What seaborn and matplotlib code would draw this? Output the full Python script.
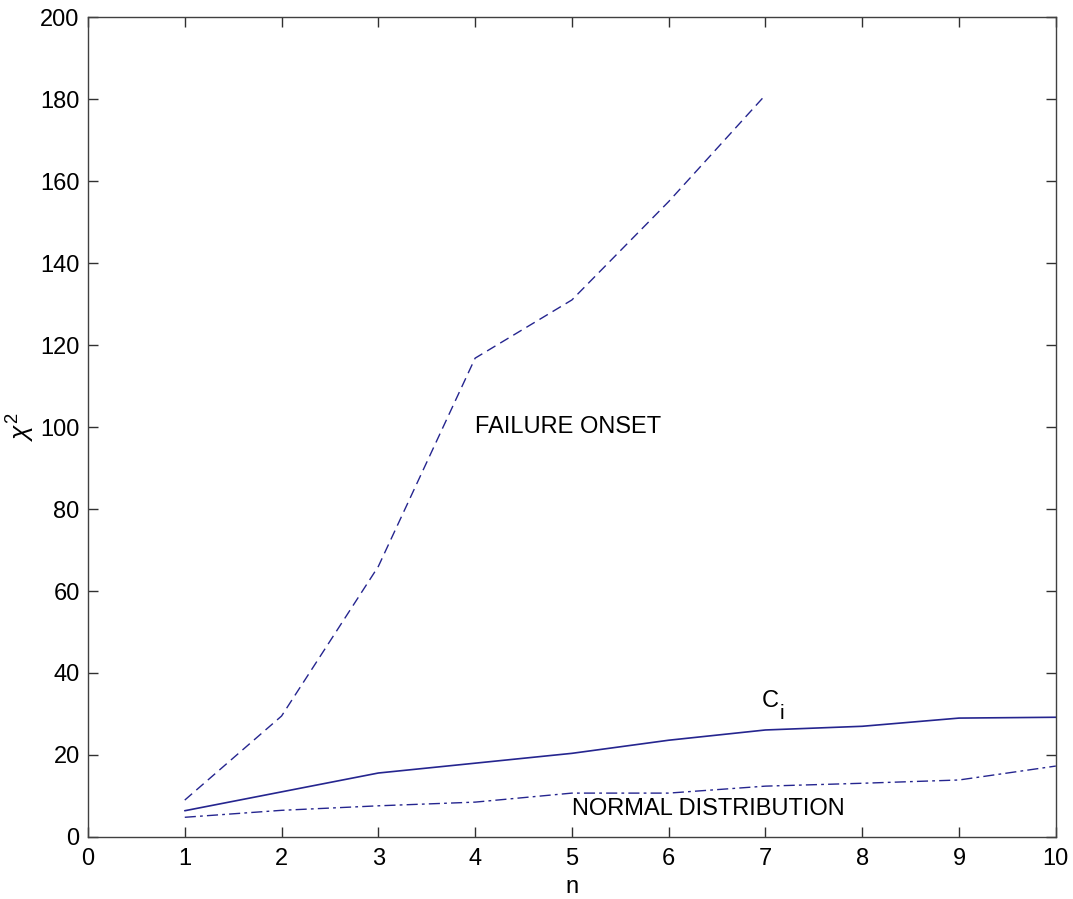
import matplotlib
matplotlib.use("Agg")
import matplotlib.pyplot as plt
import seaborn as sns
import pandas as pd

n_fail = [1, 2, 3, 4, 5, 6, 7]
failure_onset = [9.0, 29.5, 66.0, 116.8, 131.0, 155.0, 181.0]

n_all = [1, 2, 3, 4, 5, 6, 7, 8, 9, 10]
ci_values = [6.4, 11.0, 15.6, 18.0, 20.4, 23.6, 26.1, 27.0, 29.0, 29.2]
normal_dist = [4.8, 6.5, 7.6, 8.5, 10.7, 10.7, 12.4, 13.1, 13.9, 17.3]

x_ticks = list(range(0, 11))
y_ticks = list(range(0, 201, 20))

sns.set_style("ticks")
plt.rcParams['font.family'] = ['Liberation Sans', 'DejaVu Sans']
plt.rcParams['mathtext.fontset'] = 'custom'
plt.rcParams['mathtext.rm'] = 'Liberation Sans'
plt.rcParams['mathtext.it'] = 'Liberation Sans:italic'
plt.rcParams['text.color'] = 'black'
plt.rcParams['axes.labelcolor'] = 'black'

color = '#25258f'

fig = plt.figure(figsize=(10.73, 8.99), dpi=100)
ax = fig.add_axes([0.082, 0.069, 0.902, 0.912])

df_f = pd.DataFrame({'n': n_fail, 'v': failure_onset})
df_c = pd.DataFrame({'n': n_all, 'v': ci_values})
df_n = pd.DataFrame({'n': n_all, 'v': normal_dist})

sns.lineplot(data=df_f, x='n', y='v', ax=ax, color=color, lw=1.0)
ax.lines[-1].set_linestyle((0, (7, 4)))
sns.lineplot(data=df_c, x='n', y='v', ax=ax, color=color, lw=1.2)
sns.lineplot(data=df_n, x='n', y='v', ax=ax, color=color, lw=1.0)
ax.lines[-1].set_linestyle((0, (8, 3, 2, 3)))

ax.set_xlim(0, 10)
ax.set_ylim(0, 200)
ax.set_xticks(x_ticks)
ax.set_yticks(y_ticks)
ax.tick_params(direction='in', length=7.5, width=1, labelsize=17, colors='#303030',
               labelcolor='black', top=True, right=True, pad=8)
ax.tick_params(axis='y', pad=6)
for s in ax.spines.values():
    s.set_visible(True)
    s.set_color('#404040')
    s.set_linewidth(1.0)

ax.set_xlabel('n', fontsize=17, labelpad=4)
ax.set_ylabel(r'$\chi^2$', fontsize=19, labelpad=2)

ax.text(4.0, 100, 'FAILURE ONSET', fontsize=17, ha='left', va='center')
ax.text(6.96, 31.7, 'C', fontsize=17, ha='left', va='baseline')
ax.text(7.15, 28.8, 'i', fontsize=15, ha='left', va='baseline')
ax.text(5.0, 6.8, 'NORMAL DISTRIBUTION', fontsize=17, ha='left', va='center')

fig.savefig('out.png', dpi=100)
